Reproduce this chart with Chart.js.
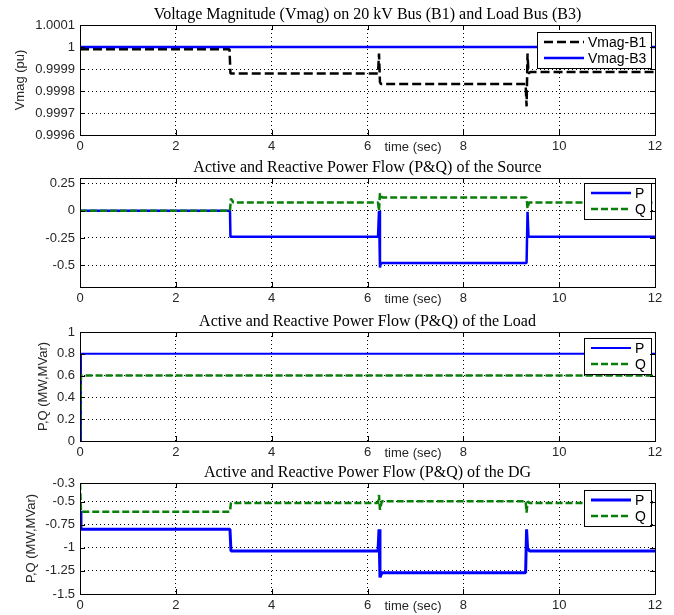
<!DOCTYPE html>
<html>
<head>
<meta charset="utf-8">
<script src="https://cdn.jsdelivr.net/npm/chart.js@4.4.0/dist/chart.umd.min.js"></script>
<style>
    body { margin: 0; background: #fff; width: 674px; height: 615px; position: relative; overflow: hidden; }
    .panel { position: absolute; left: 0; width: 674px; }
    .panel canvas { display: block; }
</style>
</head>
<body>
<div class="panel" style="top:0px"><canvas id="c1" width="674" height="157"></canvas></div>
<div class="panel" style="top:152px"><canvas id="c2" width="674" height="157"></canvas></div>
<div class="panel" style="top:305px"><canvas id="c3" width="674" height="158"></canvas></div>
<div class="panel" style="top:457px"><canvas id="c4" width="674" height="158"></canvas></div>
<script>
/* ==========================================
   SIMULATION RESULTS - 4 STACKED PANELS
   ========================================== */

const xTicks = [0, 2, 4, 6, 8, 10, 12];

// Panel 1 - voltage magnitude
const vmagTicks = [0.9996, 0.9997, 0.9998, 0.9999, 1, 1.0001];
const b1Time = [0, 3.12, 3.14, 6.22, 6.24, 6.26, 6.28, 9.3, 9.32, 9.34, 9.36, 9.4, 12];
const b1Vmag = [0.99999, 0.99999, 0.99988, 0.99988, 0.99997, 0.99984, 0.999832, 0.999832, 0.99973, 0.99997, 0.99988, 0.999886, 0.999886];
const b3Time = [0, 12];
const b3Vmag = [1, 1];

// Panel 2 - source P & Q
const srcTicks = [-0.5, -0.25, 0, 0.25];
const srcPTime = [0, 3.13, 3.14, 6.22, 6.24, 6.26, 6.28, 9.32, 9.34, 9.36, 12];
const srcP = [0, 0, -0.24, -0.24, 0.0, -0.52, -0.48, -0.48, -0.01, -0.24, -0.24];
const srcQTime = [0, 3.13, 3.15, 3.2, 6.22, 6.24, 6.26, 6.3, 9.32, 9.34, 9.37, 12];
const srcQ = [0, 0, 0.11, 0.075, 0.075, 0.0, 0.16, 0.12, 0.12, 0.02, 0.075, 0.075];

// Panel 3 - load P & Q
const loadTicks = [0, 0.2, 0.4, 0.6, 0.8, 1];
const loadPTime = [0, 0.02, 12];
const loadP = [0, 0.8, 0.8];
const loadQTime = [0, 0.02, 12];
const loadQ = [0, 0.6, 0.6];

// Panel 4 - DG P & Q
const dgTicks = [-1.5, -1.25, -1, -0.75, -0.5, -0.3];
const dgPTime = [0, 0.02, 3.13, 3.15, 6.22, 6.24, 6.26, 6.3, 9.3, 9.32, 9.34, 9.38, 12];
const dgP = [-0.6, -0.8, -0.8, -1.035, -1.035, -0.8, -1.32, -1.27, -1.27, -0.8, -1.0, -1.035, -1.035];
const dgQTime = [0, 0.02, 3.13, 3.15, 6.22, 6.24, 6.26, 6.3, 9.3, 9.32, 9.34, 9.38, 12];
const dgQ = [-0.3, -0.61, -0.61, -0.515, -0.515, -0.43, -0.59, -0.497, -0.497, -0.62, -0.5, -0.515, -0.515];

const SANS = '"Liberation Sans", Arial, sans-serif';
const SERIF = '"Liberation Serif", "Times New Roman", serif';
const BLUE = '#0000ff';
const GREEN = '#087f08';

function zip(t, v) {
    return t.map((x, i) => ({ x: x, y: v[i] }));
}

function fmt(v) {
    return String(+v.toFixed(4));
}

// title, frame with inner ticks, "time (sec)" label
const frame = {
    id: 'frame',
    afterDraw(chart) {
        const { ctx, chartArea: a } = chart;
        const opts = chart.options.plugins.frame;
        ctx.save();
        ctx.strokeStyle = '#000';
        ctx.lineWidth = 1;
        ctx.strokeRect(a.left + 0.5, a.top + 0.5, a.right - a.left, a.bottom - a.top);

        ctx.beginPath();
        chart.scales.x.ticks.forEach(t => {
            const px = Math.round(chart.scales.x.getPixelForValue(t.value)) + 0.5;
            ctx.moveTo(px, a.bottom); ctx.lineTo(px, a.bottom - 5);
            ctx.moveTo(px, a.top); ctx.lineTo(px, a.top + 5);
        });
        chart.scales.y.ticks.forEach(t => {
            const py = Math.round(chart.scales.y.getPixelForValue(t.value)) + 0.5;
            ctx.moveTo(a.left, py); ctx.lineTo(a.left + 5, py);
            ctx.moveTo(a.right, py); ctx.lineTo(a.right - 5, py);
        });
        ctx.stroke();

        ctx.fillStyle = '#000';
        ctx.font = '16px ' + SERIF;
        ctx.textAlign = 'center';
        ctx.textBaseline = 'bottom';
        ctx.fillText(opts.title, (a.left + a.right) / 2, a.top - 2);

        ctx.fillStyle = '#262626';
        ctx.font = '13px ' + SANS;
        ctx.textBaseline = 'middle';
        ctx.fillText('time (sec)', 413, a.bottom + 12);
        ctx.restore();
    }
};

const boxLegend = {
    id: 'boxLegend',
    afterDatasetsDraw(chart) {
        const { ctx, chartArea: a } = chart;
        const sets = chart.data.datasets;
        const top = chart.options.plugins.boxLegend.top;
        ctx.save();
        ctx.font = '14px ' + SANS;
        const textW = Math.max(...sets.map(d => ctx.measureText(d.label).width));
        const rowH = 16;
        const w = Math.round(7 + 40 + 4 + textW + 5);
        const h = sets.length * rowH + 4;
        const x = Math.round(a.right - 4 - w);
        const y = Math.round(a.top + top);
        ctx.fillStyle = '#fff';
        ctx.fillRect(x, y, w, h);
        ctx.strokeStyle = '#000';
        ctx.lineWidth = 1;
        ctx.strokeRect(x + 0.5, y + 0.5, w, h);
        sets.forEach((d, i) => {
            const cy = y + 2 + rowH * i + rowH / 2;
            ctx.beginPath();
            ctx.setLineDash(d.borderDash || []);
            ctx.strokeStyle = d.borderColor;
            ctx.lineWidth = d.borderWidth;
            ctx.moveTo(x + 7, cy);
            ctx.lineTo(x + 47, cy);
            ctx.stroke();
            ctx.setLineDash([]);
            ctx.fillStyle = '#000';
            ctx.textBaseline = 'middle';
            ctx.textAlign = 'left';
            ctx.fillText(d.label, x + 51, cy + 1);
        });
        ctx.restore();
    }
};

function makePanel(id, cfg) {
    return new Chart(document.getElementById(id), {
        type: 'line',
        data: { datasets: cfg.datasets },
        options: {
            responsive: false,
            animation: false,
            layout: { padding: { top: cfg.padTop, right: 19, left: 0, bottom: 0 } },
            elements: {
                point: { radius: 0 },
                line: { tension: 0, borderCapStyle: 'butt', borderJoinStyle: 'bevel' }
            },
            plugins: {
                legend: { display: false },
                tooltip: { enabled: false },
                frame: { title: cfg.title },
                boxLegend: { top: cfg.legendTop }
            },
            scales: {
                x: {
                    type: 'linear',
                    min: 0,
                    max: 12,
                    afterBuildTicks: s => { s.ticks = xTicks.map(v => ({ value: v })); },
                    afterFit: s => { s.height = cfg.xHeight; },
                    grid: { color: '#000', lineWidth: 1, drawTicks: false },
                    border: { display: false, dash: [1, 3] },
                    ticks: {
                        color: '#262626',
                        padding: 4,
                        maxRotation: 0,
                        font: { size: 13, family: SANS },
                        callback: v => fmt(v)
                    }
                },
                y: {
                    type: 'linear',
                    min: cfg.yMin,
                    max: cfg.yMax,
                    afterBuildTicks: s => { s.ticks = cfg.yTicks.map(v => ({ value: v })); },
                    afterFit: s => { s.width = 80; },
                    grid: { color: '#000', lineWidth: 1, drawTicks: false },
                    border: { display: false, dash: [1, 3] },
                    title: {
                        display: !!cfg.yTitle,
                        text: cfg.yTitle || '',
                        color: '#262626',
                        font: { size: 13, family: SANS },
                        padding: { top: cfg.yTitlePad, bottom: 0 }
                    },
                    ticks: {
                        color: '#262626',
                        padding: 5,
                        font: { size: 13, family: SANS },
                        callback: v => fmt(v)
                    }
                }
            }
        },
        plugins: [frame, boxLegend]
    });
}

makePanel('c1', {
    title: 'Voltage Magnitude (Vmag) on 20 kV Bus (B1) and Load Bus (B3)',
    yTitle: 'Vmag (pu)', yTitlePad: 13,
    yMin: 0.9996, yMax: 1.0001, yTicks: vmagTicks,
    padTop: 25, xHeight: 22, legendTop: 7,
    datasets: [
        { label: 'Vmag-B1', data: zip(b1Time, b1Vmag), borderColor: '#000', borderWidth: 2.5, borderDash: [9, 4], order: 1 },
        { label: 'Vmag-B3', data: zip(b3Time, b3Vmag), borderColor: BLUE, borderWidth: 2.5, order: 0 }
    ]
});

makePanel('c2', {
    title: 'Active and Reactive Power Flow (P&Q) of the Source',
    yTitle: '', yTitlePad: 0,
    yMin: -0.7, yMax: 0.3, yTicks: srcTicks,
    padTop: 26, xHeight: 22, legendTop: 5,
    datasets: [
        { label: 'P', data: zip(srcPTime, srcP), borderColor: BLUE, borderWidth: 2.5, order: 1 },
        { label: 'Q', data: zip(srcQTime, srcQ), borderColor: GREEN, borderWidth: 2.5, borderDash: [7, 3], order: 0 }
    ]
});

makePanel('c3', {
    title: 'Active and Reactive Power Flow (P&Q) of the Load',
    yTitle: 'P,Q (MW,MVar)', yTitlePad: 36,
    yMin: 0, yMax: 1, yTicks: loadTicks,
    padTop: 27, xHeight: 22, legendTop: 6,
    datasets: [
        { label: 'P', data: zip(loadPTime, loadP), borderColor: BLUE, borderWidth: 2, order: 1 },
        { label: 'Q', data: zip(loadQTime, loadQ), borderColor: GREEN, borderWidth: 2.5, borderDash: [7, 3], order: 0 }
    ]
});

makePanel('c4', {
    title: 'Active and Reactive Power Flow (P&Q) of the DG',
    yTitle: 'P,Q (MW,MVar)', yTitlePad: 24,
    yMin: -1.5, yMax: -0.3, yTicks: dgTicks,
    padTop: 26, xHeight: 21, legendTop: 7,
    datasets: [
        { label: 'P', data: zip(dgPTime, dgP), borderColor: BLUE, borderWidth: 3, order: 1 },
        { label: 'Q', data: zip(dgQTime, dgQ), borderColor: GREEN, borderWidth: 2.5, borderDash: [7, 3], order: 0 }
    ]
});
</script>
</body>
</html>
